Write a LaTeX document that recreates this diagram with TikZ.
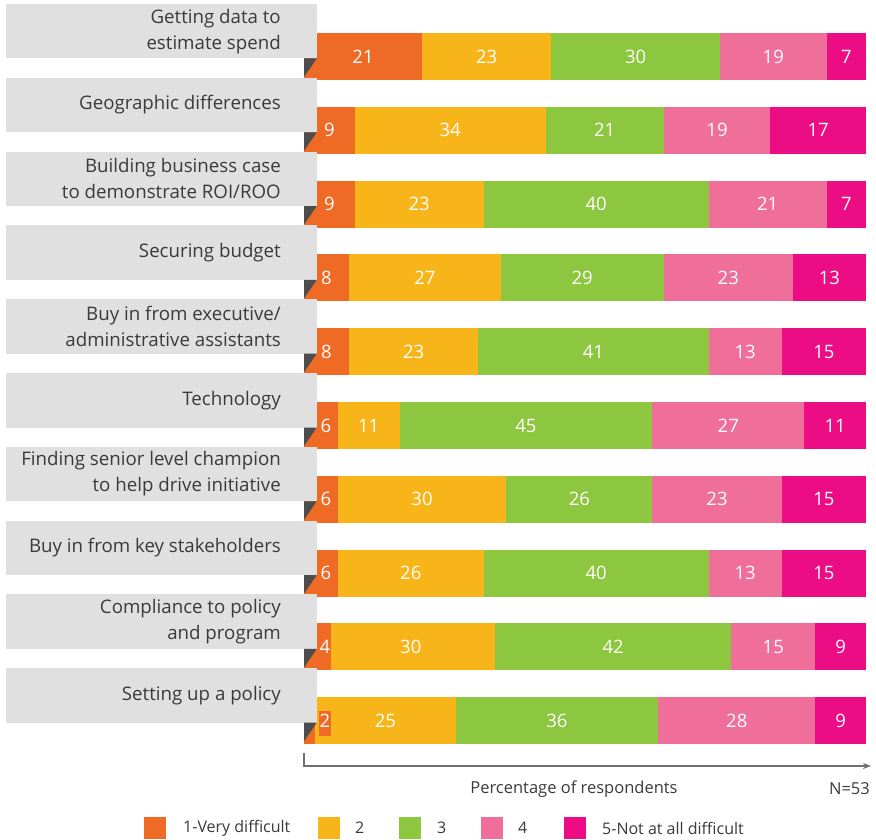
\documentclass[tikz,border=0pt]{standalone}
\usepackage{fontspec}
\setmainfont{Open Sans}
\usetikzlibrary{arrows.meta}
\definecolor{cone}{HTML}{EE6A25}
\definecolor{ctwo}{HTML}{F7B519}
\definecolor{cthree}{HTML}{8DC63F}
\definecolor{cfour}{HTML}{F06E9A}
\definecolor{cfive}{HTML}{EC0C84}
\definecolor{boxgray}{HTML}{E0E0E0}
\definecolor{darkfold}{HTML}{4D4D4D}
\definecolor{txt}{HTML}{3A3A3A}
\definecolor{axisgray}{HTML}{707070}
\tikzset{
  lab/.style={text=txt, font=\fontsize{18.7}{26}\selectfont, align=right, anchor=east, inner sep=0pt},
  num/.style={text=white, font=\fontsize{18.5}{20}\selectfont, inner sep=0pt},
  legtxt/.style={text=txt, font=\fontsize{16}{20}\selectfont, anchor=west, inner sep=0pt},
  legbox/.style={minimum width=22pt, minimum height=22pt, inner sep=0pt, anchor=north west}
}
\newcommand\chartrow[8]{%
  \pgfmathsetmacro\yt{33+73.8*#1}%
  \pgfmathsetmacro\yb{\yt+47}%
  \pgfmathsetmacro\bt{4+73.8*#1}%
  \pgfmathsetmacro\bb{\bt+54.5}%
  \pgfmathsetmacro\ym{(\yt+\yb)/2}%
  \pgfmathsetmacro\xa{304}%
  \pgfmathsetmacro\xb{\xa+5.62*#4}%
  \pgfmathsetmacro\xc{\xb+5.62*#5}%
  \pgfmathsetmacro\xd{\xc+5.62*#6}%
  \pgfmathsetmacro\xe{\xd+5.62*#7}%
  \pgfmathsetmacro\xf{866}%
  \fill[cone] (\xa,\yt) rectangle (\xb,\yb);
  \fill[ctwo] (\xb,\yt) rectangle (\xc,\yb);
  \fill[cthree] (\xc,\yt) rectangle (\xd,\yb);
  \fill[cfour] (\xd,\yt) rectangle (\xe,\yb);
  \fill[cfive] (\xe,\yt) rectangle (\xf,\yb);
  \fill[boxgray] (6,\bt) rectangle (316.7,\bb);
  \fill[darkfold] (304,\bb) -- (316.7,\bb) -- (304,{\bb+18.5}) -- cycle;
  \node[lab] (#2-lab) at (281,{(\bt+\bb)/2}) {#3};
  \pgfmathsetmacro\xl{max((\xa+\xb)/2,326)}%
  \node[num] (#2-n1) at (\xl,\ym) {#4};
  \node[num] (#2-n2) at ({(\xb+\xc)/2},\ym) {#5};
  \node[num] (#2-n3) at ({(\xc+\xd)/2},\ym) {#6};
  \node[num] (#2-n4) at ({(\xd+\xe)/2},\ym) {#7};
  \node[num] (#2-n5) at ({(\xe+\xf)/2},\ym) {#8};
}
\begin{document}
\begin{tikzpicture}[x=1pt,y=-1pt]
\useasboundingbox (0,0) rectangle (876,840);
\chartrow{0}{r1}{Getting data to\\estimate spend}{21}{23}{30}{19}{7}
\chartrow{1}{r2}{Geographic differences}{9}{34}{21}{19}{17}
\chartrow{2}{r3}{Building business case\\to demonstrate ROI/ROO}{9}{23}{40}{21}{7}
\chartrow{3}{r4}{Securing budget}{8}{27}{29}{23}{13}
\chartrow{4}{r5}{Buy in from executive/\\administrative assistants}{8}{23}{41}{13}{15}
\chartrow{5}{r6}{Technology}{6}{11}{45}{27}{11}
\chartrow{6}{r7}{Finding senior level champion\\to help drive initiative}{6}{30}{26}{23}{15}
\chartrow{7}{r8}{Buy in from key stakeholders}{6}{26}{40}{13}{15}
\chartrow{8}{r9}{Compliance to policy\\and program}{4}{30}{42}{15}{9}
\chartrow{9}{r10}{Setting up a policy}{2}{25}{36}{28}{9}
% orange patches behind the small values
\fill[cone] (316.7,623.2) rectangle (331,670.2);
\node[num] (r9-n1b) at (325,646.7) {4};
\fill[cone] (318.7,711) rectangle (330.7,736);
\node[num] (r10-n1b) at (325,720.5) {2};
% axis
\coordinate (ax0) at (304,753);
\coordinate (ax1) at (304,766);
\coordinate (ax2) at (871,766);
\draw[axisgray, line width=1.1pt, -{Stealth[length=8pt,width=6pt]}] (ax0) -- (ax1) -- (ax2);
\node[text=txt, font=\fontsize{16.5}{18}\selectfont, inner sep=0pt] (axlab) at (574,789) {Percentage of respondents};
\node[text=txt, font=\fontsize{16.5}{18}\selectfont, inner sep=0pt, anchor=east] (nlab) at (870,789) {N=53};
% legend
\node[legbox, fill=cone] (lg1) at (144,817) {};
\node[legtxt] (lt1) at (183,828) {1-Very difficult};
\node[legbox, fill=ctwo] (lg2) at (318,817) {};
\node[legtxt] (lt2) at (355,828) {2};
\node[legbox, fill=cthree] (lg3) at (399,817) {};
\node[legtxt] (lt3) at (437,828) {3};
\node[legbox, fill=cfour] (lg4) at (481,817) {};
\node[legtxt] (lt4) at (518,828) {4};
\node[legbox, fill=cfive] (lg5) at (564,817) {};
\node[legtxt] (lt5) at (602,828) {5-Not at all difficult};
\end{tikzpicture}
\end{document}
